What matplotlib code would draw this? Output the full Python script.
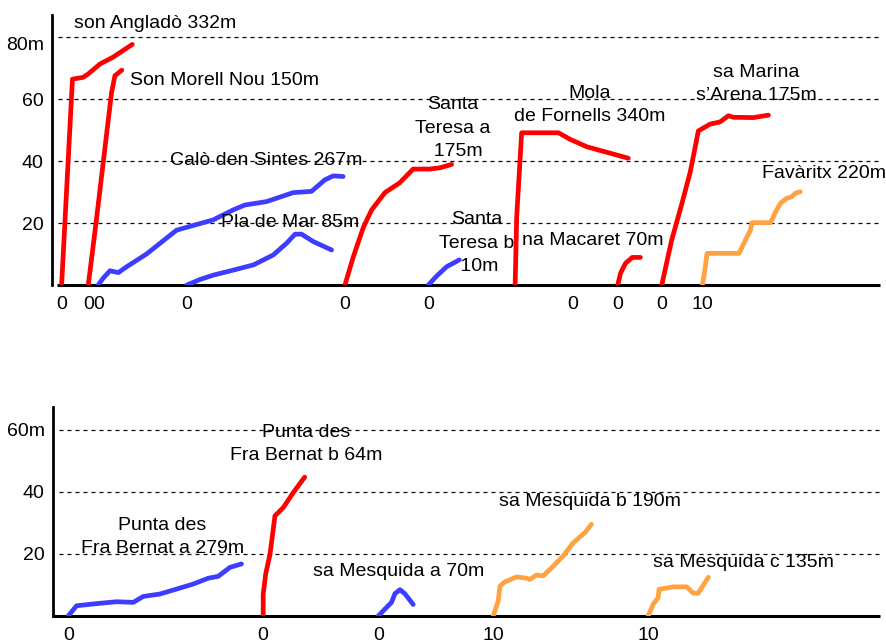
import matplotlib
matplotlib.use("Agg")
import matplotlib.pyplot as plt

plt.rcParams['font.family'] = ['Liberation Sans', 'DejaVu Sans']
FS = 14

RED = '#ff0000'
BLUE = '#3d3dff'
ORANGE = '#ffa23f'

# ---- cliff profiles: horizontal distance (m) and height (m) ----
# upper panel
anglado_d = [0, 3.5, 7.0, 8.6, 12.4, 16.6, 22.8]
anglado_h = [0, 66.4, 67.0, 68.1, 71.3, 73.5, 77.6]

morell_d = [0, 2.5, 5.0, 7.5, 8.6, 10.8]
morell_h = [0, 20.0, 41.0, 62.0, 67.5, 69.3]

calo_d = [0, 1.6, 3.8, 6.5, 9.2, 15.6, 25.3, 37.1, 43.5, 47.3, 54.3, 62.9, 68.8, 73.1, 75.8, 79.0]
calo_h = [0, 2.2, 4.6, 4.0, 5.9, 10.0, 17.7, 21.0, 24.2, 25.8, 26.9, 29.8, 30.2, 33.9, 35.2, 35.0]

pla_d = [0, 4.3, 8.6, 15.0, 21.5, 27.9, 32.2, 34.9, 37.0, 40.8, 46.7]
pla_h = [0, 1.8, 3.2, 4.8, 6.5, 9.7, 13.5, 16.4, 16.4, 14.0, 11.3]

teresa_a_d = [0, 2.7, 5.9, 8.6, 12.9, 17.7, 22.0, 27.4, 30.6, 34.4]
teresa_a_h = [0, 9.1, 18.5, 24.2, 29.8, 33.0, 37.4, 37.4, 37.8, 38.9]

teresa_b_d = [0, 2.7, 5.9, 10.0]
teresa_b_h = [0, 2.9, 5.9, 8.1]

mola_d = [-18.7, -18.2, -16.6, -4.7, -1.0, 4.4, 17.8]
mola_h = [0, 22.0, 49.1, 49.1, 47.0, 44.6, 40.9]

macaret_d = [0, 0.9, 2.5, 4.7, 7.3]
macaret_h = [0, 3.8, 7.0, 8.9, 8.9]

marina_d = [0, 3.2, 6.5, 9.2, 11.8, 15.6, 18.8, 21.5, 23.1, 29.6, 34.4]
marina_h = [0, 14.5, 26.3, 36.5, 49.7, 51.9, 52.6, 54.6, 54.1, 54.0, 54.8]

favaritx_d = [10, 10.8, 11.5, 21.8, 23.9, 25.5, 26.0, 32.0, 33.6, 35.2, 37.3, 38.9, 40.0, 41.6]
favaritx_h = [0, 4.8, 10.2, 10.2, 14.5, 17.7, 20.1, 20.1, 23.6, 26.4, 28.0, 28.5, 29.6, 30.1]

# lower panel
bernat_a_d = [0, 2.7, 10.2, 15.6, 21.0, 24.2, 29.6, 35.0, 40.3, 45.2, 48.4, 52.2, 55.9]
bernat_a_h = [0, 3.3, 4.1, 4.6, 4.4, 6.3, 7.1, 8.7, 10.3, 12.2, 12.8, 15.7, 16.8]

bernat_b_d = [0, 0, 0.8, 2.2, 3.8, 6.5, 9.7, 13.4]
bernat_b_h = [0, 7.0, 13.5, 19.9, 32.3, 35.0, 39.8, 44.8]

mesquida_a_d = [0, 4.3, 5.4, 7.0, 8.6, 11.3]
mesquida_a_h = [0, 4.4, 7.2, 8.5, 7.2, 3.7]

mesquida_b_d = [10, 11.6, 12.2, 13.8, 17.5, 20.8, 21.8, 24.0, 26.1, 29.4, 32.6, 35.8, 39.6, 41.7]
mesquida_b_h = [0, 4.8, 9.7, 11.0, 12.6, 12.2, 11.8, 13.2, 12.9, 16.1, 19.4, 23.6, 26.9, 29.6]

mesquida_c_d = [10, 11.6, 13.2, 13.5, 18.1, 22.4, 24.5, 26.1, 29.4]
mesquida_c_h = [0, 3.8, 5.9, 8.6, 9.4, 9.4, 7.4, 7.3, 12.5]

# site names with cliff length, and the first labelled distance of each profile
upper_names = ['son Angladò 332m', 'Son Morell Nou 150m', 'Calò den Sintes 267m',
               'Pla de Mar 85m', 'Santa\nTeresa a\n  175m', 'Santa\nTeresa b\n 10m',
               'Mola\nde Fornells 340m', 'na Macaret 70m', "sa Marina\ns’Arena 175m",
               'Favàritx 220m']
upper_ticks = [0, 0, 0, 0, 0, 0, 0, 0, 0, 10]
lower_names = ['Punta des\nFra Bernat a 279m', 'Punta des\nFra Bernat b 64m',
               'sa Mesquida a 70m', 'sa Mesquida b 190m', 'sa Mesquida c 135m']
lower_ticks = [0, 0, 0, 10, 10]

upper_grid = [20, 40, 60, 80]
upper_ylabels = ['20', '40', '60', '80m']
lower_grid = [20, 40, 60]
lower_ylabels = ['20', '40', '60m']

upper_profiles = [(anglado_d, anglado_h, RED), (morell_d, morell_h, RED),
                  (calo_d, calo_h, BLUE), (pla_d, pla_h, BLUE),
                  (teresa_a_d, teresa_a_h, RED), (teresa_b_d, teresa_b_h, BLUE),
                  (mola_d, mola_h, RED), (macaret_d, macaret_h, RED),
                  (marina_d, marina_h, RED), (favaritx_d, favaritx_h, ORANGE)]
lower_profiles = [(bernat_a_d, bernat_a_h, BLUE), (bernat_b_d, bernat_b_h, RED),
                  (mesquida_a_d, mesquida_a_h, BLUE), (mesquida_b_d, mesquida_b_h, ORANGE),
                  (mesquida_c_d, mesquida_c_h, ORANGE)]

# ---- layout: where each profile's zero sits along the shared axis, and label anchors ----
upper_origin = [3.1, 11.7, 14.9, 43.5, 94.5, 121.4, 168.1, 182.5, 196.7, 199.8]
upper_label_xy = [(33.2, 84.3), (55.5, 66.1), (69.0, 40.3), (76.8, 20.3), (129.4, 50.5),
                  (137.1, 13.5), (173.5, 58.1), (174.5, 14.2), (227.1, 64.8), (249.0, 36.1)]
lower_origin = [4.9, 67.8, 104.9, 132.0, 182.0]
lower_label_xy = [(35.2, 25.5), (81.6, 55.5), (111.6, 14.2), (173.2, 36.8), (222.6, 17.4)]

W, H = 886, 643
fig = plt.figure(figsize=(W / 100, H / 100), dpi=100)
PX_PER_M = 3.1


def panel(rect_px, profiles, origins, ticks, names, label_xy, grid, ylabels, xline_start):
    left, top, right, bottom = rect_px
    ax = fig.add_axes([left / W, (H - bottom) / H, (right - left) / W, (bottom - top) / H])
    ax.set_xlim(0, (right - left) / PX_PER_M)
    ax.set_ylim(0, (bottom - top) / PX_PER_M)
    for s in ('top', 'right', 'bottom'):
        ax.spines[s].set_visible(False)
    ax.spines['left'].set_linewidth(2)
    xmax = (right - left) / PX_PER_M
    ax.hlines(grid, 2.0, xmax, colors='black', linewidth=0.9,
              linestyles=(0, (3.2, 3.2)), zorder=1)
    ax.plot([xline_start, xmax], [0, 0], color='black', linewidth=2.2,
            clip_on=False, zorder=2, solid_capstyle='butt')
    for (d, h, c), o in zip(profiles, origins):
        ax.plot([o + v for v in d], h, color=c, linewidth=3.4,
                solid_capstyle='round', solid_joinstyle='round', zorder=3)
    for name, (tx, ty) in zip(names, label_xy):
        ax.text(tx, ty, name, ha='center', va='center', fontsize=FS,
                linespacing=1.5, zorder=4)
    ax.set_xticks([o + t for o, t in zip(origins, ticks)])
    ax.set_xticklabels([str(t) for t in ticks])
    ax.set_yticks(grid)
    ax.set_yticklabels(ylabels)
    ax.tick_params(axis='both', length=0, labelsize=FS)
    ax.tick_params(axis='x', pad=8)
    ax.tick_params(axis='y', pad=6)
    return ax


top_ax = panel((52, 15, 880, 285), upper_profiles, upper_origin, upper_ticks,
               upper_names, upper_label_xy, upper_grid, upper_ylabels, 1.6)
top_ax.get_yticklabels()[-1].set_verticalalignment('top')

bot_ax = panel((53, 407, 880, 616), lower_profiles, lower_origin, lower_ticks,
               lower_names, lower_label_xy, lower_grid, lower_ylabels, 0.0)

fig.savefig('out.png', dpi=100)
